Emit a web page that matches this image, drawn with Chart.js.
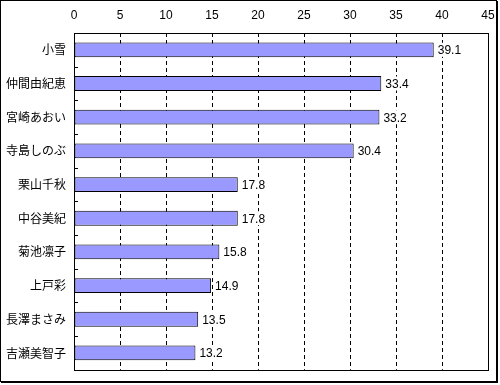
<!DOCTYPE html>
<html>
<head>
<meta charset="utf-8">
<script src="https://cdn.jsdelivr.net/npm/chart.js@4"></script>
<style>
  body { margin: 0; background: #fff; }
  #wrap { width: 500px; height: 385px; position: relative; }
</style>
</head>
<body>
<div id="wrap"><canvas id="chart" width="500" height="385"></canvas></div>
<script>
// data
const names = ['小雪', '仲間由紀恵', '宮崎あおい', '寺島しのぶ', '栗山千秋', '中谷美紀', '菊池凛子', '上戸彩', '長澤まさみ', '吉瀬美智子'];
const scores = [39.1, 33.4, 33.2, 30.4, 17.8, 17.8, 15.8, 14.9, 13.5, 13.2];
const xMin = 0, xMax = 45, xStep = 5;

const jpFont = "'Noto Sans CJK JP', sans-serif";

// value labels + frame + small y ticks
const decorate = {
  id: 'decorate',
  afterDatasetsDraw(chart) {
    const ctx = chart.ctx;
    const area = chart.chartArea;
    const meta = chart.getDatasetMeta(0);
    ctx.save();
    ctx.font = "12px 'Liberation Sans', sans-serif";
    ctx.textBaseline = 'middle';
    ctx.textAlign = 'left';
    meta.data.forEach((bar, i) => {
      const txt = scores[i].toFixed(1);
      const w = ctx.measureText(txt).width;
      ctx.fillStyle = '#fff';
      ctx.fillRect(bar.x + 2, bar.y - 7, w + 4, 14);
      ctx.fillStyle = '#000';
      ctx.fillText(txt, bar.x + 4, bar.y + 1);
    });

    // plot box
    ctx.strokeStyle = '#000';
    ctx.lineWidth = 1;
    ctx.strokeRect(Math.round(area.left) + 0.5, Math.round(area.top) + 0.5,
      Math.round(area.right - area.left), Math.round(area.bottom - area.top));

    // tick marks between categories on left axis
    const y = chart.scales.y;
    for (let i = 0; i < names.length - 1; i++) {
      const py = Math.round((y.getPixelForValue(i) + y.getPixelForValue(i + 1)) / 2) + 0.5;
      ctx.beginPath();
      ctx.moveTo(area.left, py);
      ctx.lineTo(area.left + 4, py);
      ctx.stroke();
    }

    // outer border, heavier on right and bottom
    ctx.strokeRect(0.5, 0.5, 496, 381);
    ctx.beginPath();
    ctx.moveTo(497.5, 1);
    ctx.lineTo(497.5, 383);
    ctx.moveTo(1, 382.5);
    ctx.lineTo(498, 382.5);
    ctx.stroke();
    ctx.restore();
  }
};

new Chart(document.getElementById('chart'), {
  type: 'bar',
  data: {
    labels: names,
    datasets: [{
      data: scores,
      backgroundColor: '#9999ff',
      borderColor: '#000',
      borderWidth: 1,
      borderSkipped: false,
      categoryPercentage: 1,
      barPercentage: 0.44
    }]
  },
  options: {
    indexAxis: 'y',
    responsive: false,
    animation: false,
    layout: { padding: { left: 0, right: 12, top: 0, bottom: 7 } },
    plugins: {
      legend: { display: false },
      tooltip: { enabled: false }
    },
    scales: {
      x: {
        position: 'top',
        min: xMin,
        max: xMax,
        ticks: {
          stepSize: xStep,
          color: '#000',
          padding: 2,
          font: { family: "'Liberation Sans', sans-serif", size: 12 }
        },
        grid: {
          drawTicks: true,
          tickLength: 8,
          tickColor: 'rgba(0,0,0,0)',
          color: (c) => (c.tick && (c.tick.value === xMin || c.tick.value === xMax)) ? 'rgba(0,0,0,0)' : '#000'
        },
        border: { display: false, dash: [4, 3] },
        afterFit: (s) => { s.height = 33; }
      },
      y: {
        ticks: {
          color: '#000',
          padding: 8,
          font: { family: jpFont, size: 12 }
        },
        grid: { display: false, drawTicks: false },
        border: { display: false },
        afterFit: (s) => { s.width = 74; }
      }
    }
  },
  plugins: [decorate]
});
</script>
</body>
</html>
